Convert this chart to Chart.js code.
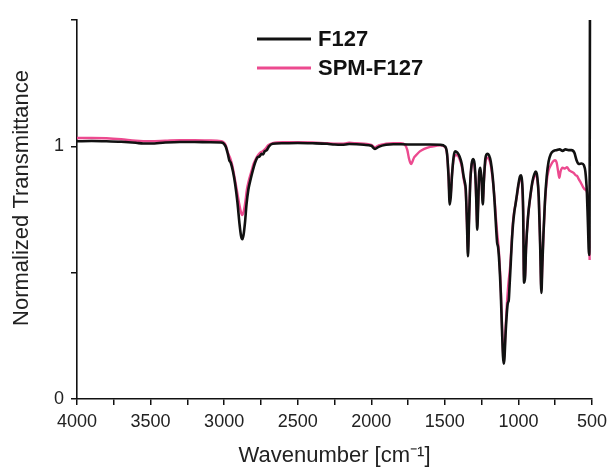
<!DOCTYPE html>
<html>
<head>
<meta charset="utf-8">
<title>FTIR F127 / SPM-F127</title>
<script src="https://cdn.jsdelivr.net/npm/chart.js@4"></script>
<style>
  html, body { margin: 0; padding: 0; background: #fff; }
  #chart { display: block; }
</style>
</head>
<body>
<canvas id="chart" width="607" height="470"></canvas>
<script>
// spectra (wavenumber in cm-1, normalized transmittance)
const f127Wave = [4000, 3900, 3800, 3700, 3600, 3550, 3500, 3400, 3300, 3200, 3100, 3020, 2990, 2975, 2965, 2955, 2940, 2925, 2910, 2895, 2885, 2876, 2868, 2858, 2848, 2835, 2820, 2805, 2790, 2775, 2760, 2745, 2735, 2725, 2710, 2695, 2670, 2600, 2500, 2400, 2300, 2250, 2200, 2150, 2100, 2050, 2000, 1975, 1950, 1900, 1850, 1800, 1700, 1600, 1530, 1500, 1485, 1475, 1467, 1460, 1452, 1440, 1430, 1415, 1400, 1385, 1372, 1365, 1358, 1350, 1343, 1336, 1328, 1318, 1308, 1298, 1290, 1285, 1280, 1274, 1266, 1258, 1250, 1242, 1235, 1225, 1212, 1200, 1188, 1175, 1162, 1152, 1145, 1138, 1130, 1120, 1112, 1105, 1100, 1095, 1088, 1080, 1072, 1066, 1060, 1052, 1045, 1037, 1028, 1020, 1010, 1000, 990, 982, 975, 968, 962, 955, 948, 935, 920, 905, 892, 882, 872, 862, 852, 844, 838, 830, 820, 808, 795, 780, 760, 740, 720, 700, 680, 660, 640, 620, 605, 590, 570, 555, 545, 535, 528, 520, 517, 514]
const f127Trans = [1.020, 1.021, 1.020, 1.018, 1.014, 1.011, 1.011, 1.015, 1.017, 1.017, 1.016, 1.015, 1.000, 0.970, 0.945, 0.935, 0.900, 0.850, 0.780, 0.690, 0.645, 0.632, 0.650, 0.700, 0.770, 0.830, 0.870, 0.905, 0.935, 0.955, 0.960, 0.970, 0.968, 0.980, 0.985, 1.000, 1.010, 1.012, 1.013, 1.012, 1.010, 1.007, 1.006, 1.009, 1.008, 1.006, 1.002, 0.990, 0.998, 1.006, 1.008, 1.008, 1.007, 1.007, 1.006, 1.000, 0.970, 0.880, 0.770, 0.800, 0.880, 0.960, 0.980, 0.975, 0.960, 0.930, 0.880, 0.860, 0.830, 0.700, 0.565, 0.700, 0.850, 0.930, 0.950, 0.930, 0.850, 0.760, 0.670, 0.760, 0.900, 0.915, 0.860, 0.770, 0.860, 0.950, 0.970, 0.965, 0.940, 0.880, 0.780, 0.680, 0.620, 0.600, 0.540, 0.420, 0.280, 0.170, 0.140, 0.160, 0.250, 0.330, 0.380, 0.390, 0.450, 0.540, 0.620, 0.690, 0.740, 0.770, 0.810, 0.850, 0.880, 0.885, 0.860, 0.750, 0.460, 0.480, 0.600, 0.720, 0.800, 0.860, 0.890, 0.900, 0.880, 0.800, 0.600, 0.420, 0.520, 0.650, 0.780, 0.880, 0.940, 0.970, 0.982, 0.985, 0.988, 0.982, 0.988, 0.985, 0.985, 0.975, 0.945, 0.930, 0.932, 0.925, 0.900, 0.820, 0.700, 0.570, 0.600, 1.500]

const spmWave = [4000, 3900, 3800, 3700, 3600, 3500, 3400, 3300, 3200, 3100, 3020, 2990, 2975, 2960, 2945, 2930, 2915, 2900, 2888, 2878, 2868, 2856, 2845, 2830, 2815, 2800, 2785, 2770, 2755, 2740, 2720, 2700, 2670, 2600, 2500, 2400, 2300, 2200, 2150, 2100, 2000, 1975, 1950, 1900, 1850, 1800, 1770, 1755, 1745, 1735, 1728, 1720, 1710, 1695, 1670, 1640, 1600, 1560, 1530, 1500, 1485, 1475, 1467, 1460, 1452, 1440, 1430, 1415, 1400, 1385, 1372, 1365, 1358, 1350, 1343, 1336, 1328, 1318, 1308, 1298, 1290, 1285, 1280, 1274, 1266, 1258, 1250, 1242, 1235, 1225, 1212, 1200, 1188, 1175, 1162, 1152, 1145, 1138, 1130, 1120, 1112, 1105, 1100, 1095, 1088, 1080, 1072, 1066, 1060, 1052, 1045, 1037, 1028, 1020, 1010, 1000, 990, 982, 975, 968, 962, 955, 948, 935, 920, 905, 892, 882, 872, 862, 852, 844, 838, 830, 820, 808, 795, 780, 765, 752, 740, 730, 722, 714, 700, 685, 670, 655, 640, 625, 610, 600, 590, 575, 560, 550, 540, 530, 522, 516]
const spmTrans = [1.033, 1.033, 1.032, 1.028, 1.022, 1.020, 1.022, 1.024, 1.024, 1.023, 1.020, 1.005, 0.975, 0.955, 0.925, 0.880, 0.830, 0.780, 0.745, 0.728, 0.740, 0.780, 0.830, 0.870, 0.900, 0.930, 0.950, 0.965, 0.975, 0.980, 0.990, 1.005, 1.013, 1.016, 1.016, 1.015, 1.012, 1.010, 1.014, 1.012, 1.006, 0.996, 1.004, 1.010, 1.012, 1.012, 1.005, 0.985, 0.955, 0.935, 0.930, 0.940, 0.955, 0.965, 0.980, 0.990, 0.998, 1.002, 1.004, 0.998, 0.968, 0.885, 0.785, 0.810, 0.885, 0.950, 0.965, 0.965, 0.950, 0.920, 0.870, 0.850, 0.820, 0.700, 0.580, 0.710, 0.850, 0.925, 0.940, 0.920, 0.845, 0.760, 0.680, 0.770, 0.895, 0.905, 0.860, 0.780, 0.860, 0.935, 0.955, 0.950, 0.925, 0.870, 0.790, 0.710, 0.660, 0.620, 0.560, 0.440, 0.300, 0.190, 0.160, 0.180, 0.270, 0.360, 0.430, 0.470, 0.500, 0.560, 0.630, 0.700, 0.745, 0.770, 0.805, 0.845, 0.870, 0.875, 0.850, 0.740, 0.470, 0.490, 0.600, 0.720, 0.795, 0.855, 0.880, 0.890, 0.870, 0.800, 0.610, 0.430, 0.530, 0.650, 0.770, 0.860, 0.905, 0.925, 0.940, 0.945, 0.935, 0.900, 0.875, 0.900, 0.915, 0.912, 0.917, 0.905, 0.900, 0.895, 0.885, 0.882, 0.870, 0.855, 0.838, 0.830, 0.826, 0.800, 0.700, 0.550]

const seriesNames = ['F127', 'SPM-F127']
const seriesColors = ['#111111', '#ec4a8f']
const xLabels = ['4000', '3500', '3000', '2500', '2000', '1500', '1000', '500']
const yLabels = ['0', '1']

const FONT = '"Liberation Sans", Arial, Helvetica, sans-serif'
const TEXT = '#222222'

const toPoints = (xs, ys) => xs.map((x, i) => ({ x: x, y: ys[i] }))

// legend lines + labels and the y title, placed like the figure
const figureText = {
  id: 'figureText',
  afterDraw(chart) {
    const ctx = chart.ctx
    ctx.save()
    seriesNames.forEach((name, i) => {
      const y = 39 + i * 29
      ctx.strokeStyle = seriesColors[i]
      ctx.lineWidth = 3
      ctx.beginPath()
      ctx.moveTo(257, y)
      ctx.lineTo(311, y)
      ctx.stroke()
      ctx.fillStyle = '#111'
      ctx.font = 'bold 22px ' + FONT
      ctx.textBaseline = 'middle'
      ctx.textAlign = 'left'
      ctx.fillText(name, 318, y + 1)
    })

    ctx.translate(22, 198)
    ctx.rotate(-Math.PI / 2)
    ctx.font = '22px ' + FONT
    ctx.fillStyle = TEXT
    ctx.textAlign = 'center'
    ctx.textBaseline = 'middle'
    ctx.fillText('Normalized Transmittance', 0, 0)
    ctx.restore()
  },
}

Chart.defaults.font.family = FONT
Chart.defaults.color = TEXT

new Chart(document.getElementById('chart'), {
  type: 'line',
  data: {
    datasets: [
      {
        label: seriesNames[0],
        data: toPoints(f127Wave, f127Trans),
        borderColor: seriesColors[0],
        borderWidth: 2.6,
        pointRadius: 0,
        cubicInterpolationMode: 'monotone',
        fill: false,
      },
      {
        label: seriesNames[1],
        data: toPoints(spmWave, spmTrans),
        borderColor: seriesColors[1],
        borderWidth: 2.4,
        pointRadius: 0,
        cubicInterpolationMode: 'monotone',
        fill: false,
      },
    ],
  },
  options: {
    responsive: false,
    animation: false,
    layout: { padding: { top: 20, right: 15, left: 0, bottom: 0 } },
    plugins: {
      legend: { display: false },
      tooltip: { enabled: false },
    },
    scales: {
      x: {
        type: 'linear',
        reverse: true,
        min: 500,
        max: 4000,
        afterFit: (scale) => {
          scale.height = 71
          // let the "500" label run off the edge like the original
          scale.paddingLeft = 0
          scale.paddingRight = 0
        },
        ticks: {
          stepSize: 250,
          autoSkip: false,
          maxRotation: 0,
          padding: 6,
          font: { size: 18 },
          color: TEXT,
          callback: (v) => (xLabels.includes(String(v)) ? String(v) : ''),
        },
        grid: {
          drawOnChartArea: false,
          drawTicks: true,
          tickLength: 6,
          color: '#111',
          lineWidth: 1.5,
        },
        border: { display: true, color: '#111', width: 1.6 },
        title: {
          display: true,
          text: 'Wavenumber [cm⁻¹]',
          font: { size: 22 },
          color: TEXT,
          padding: { top: 0, bottom: 1 },
        },
      },
      y: {
        min: 0,
        max: 1.5,
        afterFit: (scale) => { scale.width = 77 },
        ticks: {
          stepSize: 0.5,
          padding: 7,
          font: { size: 18 },
          color: TEXT,
          callback: (v) => (yLabels.includes(String(v)) ? String(v) : ''),
        },
        grid: {
          drawOnChartArea: false,
          drawTicks: true,
          tickLength: 6,
          color: '#111',
          lineWidth: 1.5,
        },
        border: { display: true, color: '#111', width: 1.6 },
      },
    },
  },
  plugins: [figureText],
})
</script>
</body>
</html>
